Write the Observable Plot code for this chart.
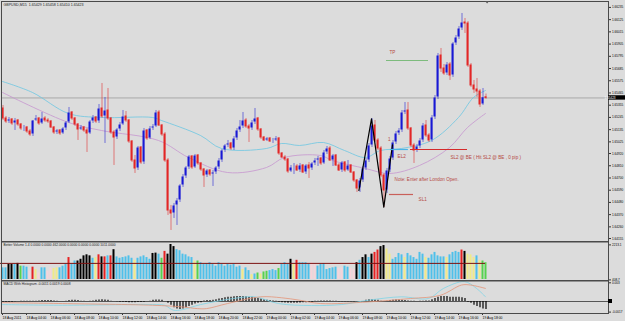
<!DOCTYPE html>
<html><head><meta charset="utf-8">
<script src="https://cdn.jsdelivr.net/npm/d3@7"></script>
<script src="https://cdn.jsdelivr.net/npm/@observablehq/plot@0.6"></script>
<style>
html,body{margin:0;padding:0;background:#dcdcdc;}
#wrap{position:relative;width:625px;height:321px;overflow:hidden;background:#dcdcdc;}
#wrap svg{position:absolute;left:0;}
</style></head><body><div id="wrap"></div>
<script>
// ---------- DATA (GBPUSD M15, bar 0 = 18 Aug 02:00) ----------
const open = [
1.65328,1.65238,1.65211,1.65229,1.65193,1.65220,1.65184,1.65148,1.65157,1.65121,
1.65094,1.65220,1.65238,1.65193,1.65238,1.65220,1.65211,1.65157,1.65112,1.65130,
1.65103,1.65148,1.65202,1.65292,1.65238,1.65184,1.65139,1.65157,1.65130,1.65103,
1.65211,1.65247,1.65211,1.65328,1.65256,1.65310,1.65238,1.65112,1.65067,1.65139,
1.65184,1.65256,1.65220,1.65031,1.64860,1.64788,1.64977,1.64842,1.65130,1.65058,
1.65148,1.65166,1.65292,1.65175,1.65094,1.64860,1.64410,1.64383,1.64455,1.64500,
1.64635,1.64716,1.64797,1.64896,1.64797,1.64905,1.64833,1.64779,1.64725,1.64770,
1.64734,1.64752,1.64797,1.64860,1.64950,1.64995,1.65013,1.64968,1.65058,1.65130,
1.65166,1.65220,1.65166,1.65148,1.65202,1.65238,1.65139,1.65067,1.65040,1.65058,
1.65031,1.65040,1.65058,1.64923,1.64887,1.64869,1.64761,1.64797,1.64806,1.64770,
1.64815,1.64752,1.64815,1.64788,1.64833,1.64860,1.64878,1.64833,1.64932,1.64968,
1.64860,1.64905,1.64815,1.64770,1.64842,1.64770,1.64815,1.64752,1.64680,1.64608,
1.64680,1.64788,1.64860,1.64995,1.65175,1.65040,1.64968,1.64725,1.64590,1.64770,
1.64878,1.65022,1.65103,1.65130,1.65292,1.65310,1.65148,1.64995,1.64950,1.64986,
1.65040,1.65175,1.65085,1.65040,1.65247,1.65427,1.65805,1.65688,1.65643,1.65724,
1.65625,1.65913,1.65967,1.66048,1.66102,1.66093,1.65715,1.65535,1.65499,1.65481,
1.65364,1.65429];
const high = [
1.65355,1.65256,1.65247,1.65238,1.65238,1.65229,1.65193,1.65175,1.65166,1.65139,
1.65220,1.65265,1.65247,1.65292,1.65256,1.65238,1.65220,1.65166,1.65139,1.65139,
1.65157,1.65211,1.65337,1.65301,1.65247,1.65193,1.65175,1.65166,1.65148,1.65220,
1.65265,1.65256,1.65364,1.65553,1.65427,1.65508,1.65247,1.65130,1.65148,1.65202,
1.65310,1.65301,1.65229,1.65040,1.64905,1.64986,1.64986,1.65148,1.65139,1.65166,
1.65184,1.65310,1.65310,1.65184,1.65112,1.64878,1.64455,1.64473,1.64518,1.64644,
1.64734,1.64806,1.64905,1.64905,1.64914,1.64914,1.64842,1.64788,1.64779,1.64779,
1.64770,1.64806,1.64878,1.64959,1.65004,1.65040,1.65022,1.65076,1.65148,1.65220,
1.65292,1.65238,1.65184,1.65220,1.65328,1.65247,1.65148,1.65076,1.65067,1.65067,
1.65058,1.65076,1.65067,1.64932,1.64905,1.64878,1.64815,1.64833,1.64824,1.64833,
1.64824,1.64824,1.64842,1.64842,1.64878,1.64896,1.64887,1.64950,1.64986,1.64986,
1.64914,1.64914,1.64833,1.64851,1.64851,1.64860,1.64824,1.64761,1.64689,1.64698,
1.64806,1.64878,1.65013,1.65238,1.65220,1.65058,1.64986,1.64743,1.64788,1.64896,
1.65040,1.65121,1.65148,1.65310,1.65382,1.65382,1.65157,1.65013,1.65004,1.65058,
1.65193,1.65220,1.65103,1.65265,1.65445,1.65823,1.65868,1.65724,1.65742,1.65742,
1.65922,1.65985,1.66066,1.66183,1.66138,1.66111,1.65733,1.65580,1.65598,1.65499,
1.65508,1.65458];
const low = [
1.65220,1.65193,1.65193,1.65175,1.65130,1.65166,1.65130,1.65121,1.65103,1.65076,
1.65076,1.65211,1.65175,1.65184,1.65202,1.65193,1.65148,1.65094,1.65094,1.65085,
1.65094,1.65130,1.65193,1.65220,1.65166,1.65040,1.65130,1.65112,1.64932,1.65094,
1.65193,1.65193,1.65193,1.65238,1.65013,1.65220,1.65094,1.64815,1.65049,1.65121,
1.65175,1.65202,1.65013,1.64842,1.64743,1.64770,1.64824,1.64824,1.65040,1.65049,
1.65130,1.65157,1.65166,1.65076,1.64842,1.64365,1.64230,1.64338,1.64275,1.64482,
1.64617,1.64698,1.64779,1.64779,1.64788,1.64815,1.64761,1.64617,1.64707,1.64716,
1.64626,1.64734,1.64779,1.64842,1.64932,1.64977,1.64950,1.64950,1.65040,1.65112,
1.65148,1.65148,1.65022,1.65130,1.65184,1.65121,1.65049,1.65031,1.65031,1.65022,
1.65013,1.65031,1.64905,1.64878,1.64851,1.64743,1.64752,1.64734,1.64761,1.64752,
1.64743,1.64734,1.64698,1.64770,1.64815,1.64806,1.64815,1.64824,1.64914,1.64851,
1.64806,1.64806,1.64761,1.64752,1.64752,1.64761,1.64743,1.64662,1.64572,1.64572,
1.64662,1.64770,1.64842,1.64977,1.65022,1.64950,1.64707,1.64437,1.64563,1.64752,
1.64860,1.65004,1.65085,1.65112,1.65274,1.65130,1.64977,1.64833,1.64932,1.64968,
1.65022,1.65067,1.65022,1.65022,1.65229,1.65409,1.65652,1.65625,1.65625,1.65580,
1.65607,1.65895,1.65949,1.66030,1.66003,1.65697,1.65517,1.65463,1.65427,1.65337,
1.65355,1.65410];
const close = [
1.65238,1.65211,1.65229,1.65193,1.65220,1.65184,1.65148,1.65157,1.65121,1.65094,
1.65220,1.65238,1.65193,1.65238,1.65220,1.65211,1.65157,1.65112,1.65130,1.65103,
1.65148,1.65202,1.65292,1.65238,1.65184,1.65139,1.65157,1.65130,1.65103,1.65211,
1.65247,1.65211,1.65328,1.65256,1.65310,1.65238,1.65112,1.65067,1.65139,1.65184,
1.65256,1.65220,1.65031,1.64860,1.64788,1.64977,1.64842,1.65130,1.65058,1.65148,
1.65166,1.65292,1.65175,1.65094,1.64860,1.64410,1.64383,1.64455,1.64500,1.64635,
1.64716,1.64797,1.64896,1.64797,1.64905,1.64833,1.64779,1.64725,1.64770,1.64734,
1.64752,1.64797,1.64860,1.64950,1.64995,1.65013,1.64968,1.65058,1.65130,1.65166,
1.65220,1.65166,1.65148,1.65202,1.65238,1.65139,1.65067,1.65040,1.65058,1.65031,
1.65040,1.65058,1.64923,1.64887,1.64869,1.64761,1.64797,1.64806,1.64770,1.64815,
1.64752,1.64815,1.64788,1.64833,1.64860,1.64878,1.64833,1.64932,1.64968,1.64860,
1.64905,1.64815,1.64770,1.64842,1.64770,1.64815,1.64752,1.64680,1.64608,1.64680,
1.64788,1.64860,1.64995,1.65175,1.65040,1.64968,1.64725,1.64590,1.64770,1.64878,
1.65022,1.65103,1.65130,1.65292,1.65310,1.65148,1.64995,1.64950,1.64986,1.65040,
1.65175,1.65085,1.65040,1.65247,1.65427,1.65805,1.65688,1.65643,1.65724,1.65625,
1.65913,1.65967,1.66048,1.66102,1.66093,1.65715,1.65535,1.65499,1.65481,1.65364,
1.65429,1.65423];

// moving averages (anchor readings: bar index, price)
const maFastBar = [0,10,22,33,50,53,66,73,88,93,99,107,114,121,126,133,143,152,157,161];
const maFastVal = [1.65571,1.65472,1.65283,1.65247,1.65247,1.65220,1.65085,1.64968,1.64968,1.65013,1.64995,1.65022,1.64950,1.64887,1.64950,1.64968,1.65040,1.65247,1.65427,1.65490];
const maSlowBar = [0,22,33,52,62,75,88,94,106,110,121,129,139,149,155,161];
const maSlowVal = [1.65472,1.65202,1.65130,1.65040,1.64887,1.64752,1.64797,1.64887,1.64905,1.64860,1.64788,1.64743,1.64815,1.64977,1.65157,1.65283];

// Better Volume
const volume = [
1010,1010,1186,1186,1186,1240,1098,1098,1045,833,
1045,921,744,1010,1010,833,1010,974,1010,1010,
1098,1186,1540,1186,1363,1363,1451,1628,1681,1628,
1504,1540,1681,1575,1575,1628,1628,1946,1575,1504,
1540,1575,1628,1504,1398,1504,1575,1628,1540,1451,
1752,1769,1716,1504,1858,1716,2213,2105,1946,1893,
1716,1681,1575,1540,1363,1363,1275,1186,1222,1275,
1186,1098,1275,1186,1098,1186,1151,1186,1045,1098,
921,1010,868,656,692,744,692,798,833,868,
921,868,974,1186,1275,1186,1451,1186,1398,1275,
1275,1275,1186,1275,1186,1098,1186,1222,921,974,
1010,1045,974,1010,1098,1045,974,921,1275,1398,
1540,1681,1540,1716,1805,1928,2105,2158,1981,1716,
1451,1540,1752,1681,1540,1752,1628,1540,1451,1805,
1716,1540,1504,1681,1805,1628,1575,1575,1540,1681,
1805,1858,1805,1928,1858,1716,1681,1540,1628,1398,
1363,1275];
const volumeClass = (
"BBKKBKGBBW"+"RYWBBWWYYB"+"BBRBBKKKKK"+"BYRKRBRKBB"+"BBBBYBBBBB"+
"KKBGRKKKBB"+"BBBBYGBBBB"+"BBBBBBBBBB"+"YBBYBGYGGB"+"BBGBBBKYRB"+
"BBBWWBBBBB"+"BBWWBBWWKB"+"KKBKRRKKYY"+"BBBBYBBBBB"+"BYBBBBBBYB"+
"BBBRKYYYBY"+"GG").split("");
const volumeAverage = 1240;
const volumeScaleLabels = [2213.1, 408.7];

// MACD with histogram
const macdHist = [
-0.0001,-0.0001,-0.0001,-0.0001,-0.00005,
0,0.00005,0.00005,0.00005,0.00005,0.00005,0.00005,
0.0001,0.00015,0.00015,0.00015,0.00015,0.0001,
0.00005,0,0,0.00005,
0.00015,0.0002,0.0002,0.00015,
0.00005,0.00005,0,0.00005,0.0001,
0.0002,0.00025,0.0003,0.00025,0.0002,
0.00005,0,-0.00005,-0.0001,-0.0001,
-0.00015,-0.0002,-0.0002,-0.0002,-0.00015,-0.00015,-0.0001,
0,0.00005,
0.0002,0.00025,0.00025,0.0002,
0,-0.0003,-0.0006,-0.001,-0.0012,-0.0013,-0.0012,-0.001,-0.0008,-0.0006,-0.0004,-0.0003,-0.0002,
0.0001,0.00015,0.00015,0.0002,
0.0003,0.0004,0.0005,0.0006,0.0007,0.0007,0.00075,0.0008,0.0008,0.0008,0.00075,0.0007,0.0007,
0.0006,0.0005,0.0004,0.0003,0.0002,0.00015,0.0001,0.00005,
-0.0001,-0.0002,-0.00025,-0.0003,-0.0003,-0.0003,-0.0003,-0.00025,-0.0002,-0.0002,-0.00015,-0.0001,
0.00005,0.00005,0.0001,0.0001,0.0001,0.0001,0.00005,0.00005,
-0.00005,-0.00005,-0.00005,-0.00005,-0.00005,-0.00005,-0.00005,0,0,
0.0002,0.0003,0.0003,0.00025,0.0002,
0.00005,0,0.00005,
0.00015,0.0002,0.00025,0.00025,0.0002,0.00015,0.0001,0.00005,0.00005,
0,0.00005,0.00005,0.0001,0.0001,
0.0003,0.0005,0.0007,0.0008,0.0008,0.0008,0.0007,0.0007,0.0007,0.0007,0.0006,0.0005,
-0.0001,-0.0003,-0.0006,-0.0008,-0.001,-0.0012,-0.0013];
const macdMainBar = [0,20,50,54,57,60,66,77,84,92,103,113,122,133,142,147,154,158,161];
const macdMainVal = [-0.00049,-0.0006,-0.00049,-0.0006,-0.0014,-0.0013,-0.0005,0.00048,0.00075,-0.00033,-0.00065,-0.00049,0.00021,0.00075,0.00048,0.0021,0.00318,0.0021,0.00075];
const macdSignalBar = [0,20,50,60,65,68,75,86,93,99,106,122,136,146,153,156,161];
const macdSignalVal = [-0.00018,-0.00033,-0.0006,-0.00087,-0.00114,-0.00114,-0.00033,0.00075,0.0006,0.00021,-0.00033,-0.00006,0.00048,0.001,0.00264,0.00264,0.0021];
const macdScaleLabels = [0.003, -0.0017];

// axes
const priceTicks = [1.66235,1.66125,1.66015,1.65905,1.65795,1.65685,1.65575,1.65465,1.65355,1.65245,
  1.65135,1.65025,1.64920,1.64810,1.64700,1.64590,1.64480,1.64370,1.64260,1.64155];
const timeTickBar = [0,8,16,24,32,40,48,56,64,72,80,88,96,104,112,120,128,136,144,152,160];
const timeTickLabel = ["18 Aug 2011","18 Aug 04:00","18 Aug 06:00","18 Aug 08:00","18 Aug 10:00","18 Aug 12:00",
  "18 Aug 14:00","18 Aug 16:00","18 Aug 18:00","18 Aug 20:00","18 Aug 22:00","19 Aug 00:00","19 Aug 02:00",
  "19 Aug 04:00","19 Aug 06:00","19 Aug 08:00","19 Aug 10:00","19 Aug 12:00","19 Aug 14:00","19 Aug 16:00","19 Aug 18:00"];
const lastPrice = 1.65423;
const mainTitle = "GBPUSD,M15  1.65429 1.65458 1.65410 1.65423";
const volumeTitle = "Better Volume 1.4 0.0000 0.0000 462.0000 0.0000 0.0000 0.0000 1011.0000";
const macdTitle = "MACD With Histogram -0.0011 0.0019 0.0008";

// trade annotations
const zigzagBar = [118.8, 123, 127.1, 130];
const zigzagVal = [1.64590, 1.65235, 1.64440, 1.65000];
const levelName = ["TP", "EL2", "SL2", "SL1"];
const levelVal = [1.65760, 1.64959, 1.64959, 1.64554];
const levelFrom = [128, 129.3, 136, 129];
const levelTo = [142, 135.3, 155, 137];
const noteText = ["TP", "EL2", "SL2 @ BE ( Hit SL2 @ BE , 0 pip )", "Note: Enter after London Open.", "SL1", "1"];
const noteBar = [129, 131.7, 149.3, 130.7, 138.7, 128.5];
const noteVal = [1.65832, 1.64893, 1.64884, 1.64692, 1.64512, 1.65046];

// ---------- BUILD ----------
const FONT = "Arial, 'Liberation Sans', sans-serif";
const BULL = "#1818d4", BEAR = "#e22626", BORDER = "#4a4a4a", NOTE = "#b64a44";
const levelColor = {TP: "#7dbb7d", EL2: "#4bb3e6", SL2: "#d42a2a", SL1: "#c9605a"};
const volColor = {B: "#4ec0ea", K: "#000000", R: "#e62222", Y: "#f0ea88", G: "#56d24e", W: "#f6d2d9"};
const X = {type: "linear", domain: [0, 161], range: [2, 485]};

const bars = d3.range(open.length).map(i => ({i, o: open[i], h: high[i], l: low[i], c: close[i], up: close[i] >= open[i]}));
const maFast = maFastBar.map((b, k) => ({i: b, p: maFastVal[k]}));
const maSlow = maSlowBar.map((b, k) => ({i: b, p: maSlowVal[k]}));
const zigzag = zigzagBar.map((b, k) => ({i: b, p: zigzagVal[k]}));
const levels = levelName.map((n, k) => ({n, p: levelVal[k], a: levelFrom[k], b: levelTo[k], color: levelColor[n]}));
const notes = noteText.map((t, k) => ({t, i: noteBar[k], p: noteVal[k]}));
const vols = volume.map((v, i) => ({i, v, color: volColor[volumeClass[i]]}));
const hist = macdHist.map((v, i) => ({i, v}));
const macdMain = macdMainBar.map((b, k) => ({i: b, v: macdMainVal[k]}));
const macdSig = macdSignalBar.map((b, k) => ({i: b, v: macdSignalVal[k]}));

const wrap = document.getElementById("wrap");
function place(svg, top) { svg.style.top = top + "px"; wrap.appendChild(svg); return svg; }
const axisText = {fontSize: 3.1, stroke: "#333", label: null};

// main price panel
const main = Plot.plot({
  width: 625, height: 242,
  marginLeft: 1, marginRight: 17, marginTop: 1, marginBottom: 1,
  style: {background: "none", fontFamily: FONT, color: "#000"},
  x: {...X, axis: null, label: null},
  y: {domain: [1.6630, 1.6410], range: [0, 244.44], axis: null, label: null},
  marks: [
    Plot.ruleY([lastPrice], {stroke: "#9a9a9a", strokeWidth: 0.8}),
    Plot.line(maFast, {x: "i", y: "p", curve: "catmull-rom", stroke: "#6cc6e2", strokeWidth: 0.8}),
    Plot.line(maSlow, {x: "i", y: "p", curve: "catmull-rom", stroke: "#c796cf", strokeWidth: 0.8}),
    Plot.ruleX(bars, {x: "i", y1: "l", y2: "h", dx: 0.5, stroke: d => d.up ? BULL : BEAR, strokeOpacity: 0.55, strokeWidth: 1}),
    Plot.ruleX(bars, {x: "i", y1: "o", y2: "c", stroke: d => d.up ? BULL : BEAR, strokeWidth: 2, insetTop: -0.5, insetBottom: -0.5}),
    Plot.line(zigzag, {x: "i", y: "p", stroke: "#000", strokeWidth: 1.2}),
    Plot.ruleY(levels, {y: "p", x1: "a", x2: "b", stroke: "color", strokeWidth: 1.2}),
    Plot.text(notes, {x: "i", y: "p", text: "t", fill: NOTE, fontSize: 4.6, textAnchor: "start"}),
    Plot.text([mainTitle], {text: d => d, frameAnchor: "top-left", dx: 2, dy: 2, lineAnchor: "top", fontSize: 3.6, fill: "#222"}),
    Plot.axisY(priceTicks, {...axisText, anchor: "right", tickSize: 2, tickPadding: 1.5, tickFormat: d => d.toFixed(5), dy: -0.3}),
    Plot.frame({stroke: BORDER, strokeWidth: 1})
  ]
});
place(main, 0);
{
  const sy = main.scale("y"), sx = main.scale("x");
  const yy = sy.apply(lastPrice);
  const g = d3.select(main).append("g");
  g.append("rect").attr("x", 608).attr("y", yy - 2.2).attr("width", 17).attr("height", 4.4).attr("fill", "#000");
  g.append("text").attr("x", 610).attr("y", yy).attr("dy", "0.35em").attr("fill", "#fff")
    .attr("font-size", 3.1).attr("font-family", FONT).text(lastPrice.toFixed(5));
  const tx = sx.apply(161.7);
  g.append("path").attr("d", `M${tx - 2},1 L${tx + 2},1 L${tx},3.5 Z`).attr("fill", "#555");
}

// volume panel
const volPlot = Plot.plot({
  width: 625, height: 40,
  marginLeft: 1, marginRight: 17, marginTop: 0.5, marginBottom: 1,
  style: {background: "none", fontFamily: FONT, color: "#000"},
  x: {...X, axis: null, label: null},
  y: {domain: [408.7, 2213.1], range: [38, 3], axis: null, label: null},
  marks: [
    Plot.ruleX(vols, {x: "i", y1: 408.7, y2: "v", stroke: "color", strokeWidth: 2}),
    Plot.ruleY([volumeAverage], {x1: -1, x2: 161, stroke: "#7c1010", strokeWidth: 1}),
    Plot.text([volumeTitle], {text: d => d, frameAnchor: "top-left", dx: 2, dy: 2, lineAnchor: "top", fontSize: 3.3, fill: "#222"}),
    Plot.axisY(volumeScaleLabels, {...axisText, anchor: "right", tickSize: 2, tickPadding: 1.5, tickFormat: d => d.toFixed(1), dy: 0.4}),
    Plot.frame({stroke: BORDER, strokeWidth: 1})
  ]
});
place(volPlot, 240.5);

// MACD panel
const macdPlot = Plot.plot({
  width: 625, height: 41,
  marginLeft: 1, marginRight: 17, marginTop: 0.5, marginBottom: 8,
  style: {background: "none", fontFamily: FONT, color: "#000"},
  x: {...X, axis: null, label: null},
  y: {domain: [-0.0017, 0.003], range: [31.6, 2.3], axis: null, label: null},
  marks: [
    Plot.ruleY([0], {stroke: "#333", strokeWidth: 0.8}),
    Plot.ruleX(hist, {x: "i", y1: 0, y2: "v", dx: 0.5, stroke: "#000", strokeWidth: 1.2}),
    Plot.line(macdMain, {x: "i", y: "v", curve: "catmull-rom", stroke: "#7fd4e6", strokeWidth: 0.8}),
    Plot.line(macdSig, {x: "i", y: "v", curve: "catmull-rom", stroke: "#e39478", strokeWidth: 0.8}),
    Plot.text([macdTitle], {text: d => d, frameAnchor: "top-left", dx: 2, dy: 2, lineAnchor: "top", fontSize: 3.3, fill: "#222"}),
    Plot.axisY(macdScaleLabels, {...axisText, anchor: "right", tickSize: 2, tickPadding: 1.5, tickFormat: d => String(d)}),
    Plot.axisX(timeTickBar, {...axisText, fontSize: 3.4, anchor: "bottom", tickSize: 2, tickPadding: 1, textAnchor: "start",
      tickFormat: d => timeTickLabel[timeTickBar.indexOf(d)]}),
    Plot.frame({stroke: BORDER, strokeWidth: 1})
  ]
});
place(macdPlot, 279.5);
{
  const y0 = macdPlot.scale("y").apply(0);
  d3.select(macdPlot).append("rect").attr("x", 608).attr("y", y0 - 2).attr("width", 4).attr("height", 4).attr("fill", "#000");
}
</script>
</body></html>
